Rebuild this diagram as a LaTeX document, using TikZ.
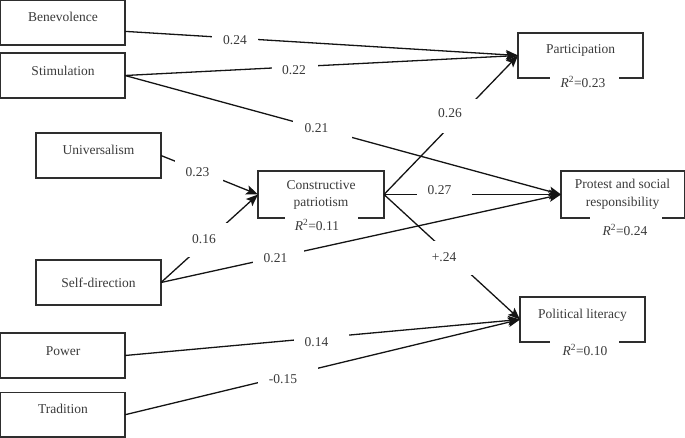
\documentclass[tikz,border=0pt]{standalone}
\usepackage{fontspec}
\setmainfont{Liberation Serif}
\usetikzlibrary{arrows.meta}
\definecolor{txtc}{HTML}{3A3A3A}
\definecolor{brdc}{HTML}{2E2E2E}
\definecolor{linec}{HTML}{141414}
\begin{document}
\begin{tikzpicture}[x=1pt,y=-1pt,
  box/.style={draw=brdc, line width=1.4pt, inner sep=0pt, outer sep=0pt,
              minimum width=125pt, minimum height=45pt},
  word/.style={text=txtc, font=\fontsize{13.5}{17.5}\selectfont, inner sep=0pt,
               text height=9.5pt, text depth=3pt},
  words/.style={text=txtc, font=\fontsize{13.5}{17.5}\selectfont, inner sep=0pt, align=center},
  conn/.style={line width=1.3pt, draw=linec, -{Stealth[length=12pt,width=9.5pt,inset=2.5pt]}},
  gap/.style={fill=white, inner sep=0pt, minimum height=34pt},
  rgap/.style={fill=white, inner sep=0pt, minimum height=5pt},
]
\useasboundingbox (0,0) rectangle (685,438);

% ---------- boxes ----------
\node[box, minimum width=124.25pt, minimum height=44.25pt] (ben)  at (62.875,22.875) {};
\node[box, minimum width=124.25pt] (stim) at (62.875,75.5) {};
\node[box] (univ) at (98.5,155.5) {};
\node[box] (self) at (98.5,282.5) {};
\node[box, minimum width=124.25pt] (pow)  at (62.875,355.5) {};
\node[box, minimum width=124.25pt, minimum height=44.5pt] (trad) at (62.875,414.75) {};
\node[box, minimum width=126pt, minimum height=47pt] (cp) at (321,194.5) {};
\node[box] (part) at (580.5,55.5) {};
\node[box, minimum width=123.25pt, minimum height=47pt] (prot) at (622.625,194.5) {};
\node[box] (pl) at (582.5,319.5) {};

% ---------- box texts ----------
\node[word] (benT)  at (63,18) {Benevolence};
\node[word] (stimT) at (63,72) {Stimulation};
\node[word] (univT) at (98.5,151) {Universalism};
\node[word] (selfT) at (98.5,284) {Self-direction};
\node[word] (powT)  at (63,352) {Power};
\node[word] (tradT) at (63,410) {Tradition};
\node[words] (cpT)   at (321,195) {Constructive\\patriotism};
\node[word] (partT) at (580.5,50) {Participation};
\node[words] (protT) at (622.6,194.5) {Protest and social\\responsibility};
\node[word] (plT)   at (582.5,315) {Political literacy};

% ---------- R^2 gaps and labels ----------
\node[rgap, minimum width=73pt] (cpG)   at (321.5,218) {};
\node[rgap, minimum width=69pt] (partG) at (584.5,78) {};
\node[rgap, minimum width=72pt] (protG) at (626,218) {};
\node[rgap, minimum width=69pt] (plG)   at (584.5,342) {};
\node[word] (cpR)   at (317,227.5) {\textit{R}\textsuperscript{2}=0.11};
\node[word] (partR) at (583,84) {\textit{R}\textsuperscript{2}=0.23};
\node[word] (protR) at (625,232) {\textit{R}\textsuperscript{2}=0.24};
\node[word] (plR)   at (585,352) {\textit{R}\textsuperscript{2}=0.10};

% ---------- connectors ----------
\draw[conn] ([yshift=-8.5pt]ben.east) -- node[gap, minimum width=46pt, pos=0.28] (g1) {} (part.west);
\draw[conn] (stim.east) -- node[gap, minimum width=46pt, pos=0.433] (g2) {} (part.west);
\draw[conn] (stim.east) -- node[gap, minimum width=59pt, pos=0.453] (g3) {} (prot.west);
\draw[conn] (univ.east) -- node[gap, minimum width=48pt, pos=0.392] (g4) {} (cp.west);
\draw[conn] (self.east) -- node[gap, minimum width=50pt, pos=0.485] (g5) {} (cp.west);
\draw[conn] (self.east) -- node[gap, minimum width=51pt, pos=0.294] (g6) {} (prot.west);
\draw[conn] (cp.east) -- node[gap, minimum width=50pt, pos=0.567] (g7) {} (part.west);
\draw[conn] (cp.east) -- node[gap, minimum width=55pt, pos=0.342] (g8) {} (prot.west);
\draw[conn] (cp.east) -- node[gap, minimum width=50pt, pos=0.511] (g9) {} (pl.west);
\draw[conn] (pow.east) -- node[gap, minimum width=55pt, pos=0.497] (g10) {} (pl.west);
\draw[conn] (trad.east) -- node[gap, minimum width=60pt, pos=0.413] (g11) {} (pl.west);

% ---------- coefficient labels ----------
\node[word] (l1)  at (235,41) {0.24};
\node[word] (l2)  at (294,71) {0.22};
\node[word] (l3)  at (316.5,129) {0.21};
\node[word] (l4)  at (197.5,173) {0.23};
\node[word] (l5)  at (204,240) {0.16};
\node[word] (l6)  at (275.5,259) {0.21};
\node[word] (l7)  at (450,114) {0.26};
\node[word] (l8)  at (439.5,191) {0.27};
\node[word] (l9)  at (444,258) {+.24};
\node[word] (l10) at (316.5,343) {0.14};
\node[word] (l11) at (283,380) {-0.15};
\end{tikzpicture}
\end{document}
